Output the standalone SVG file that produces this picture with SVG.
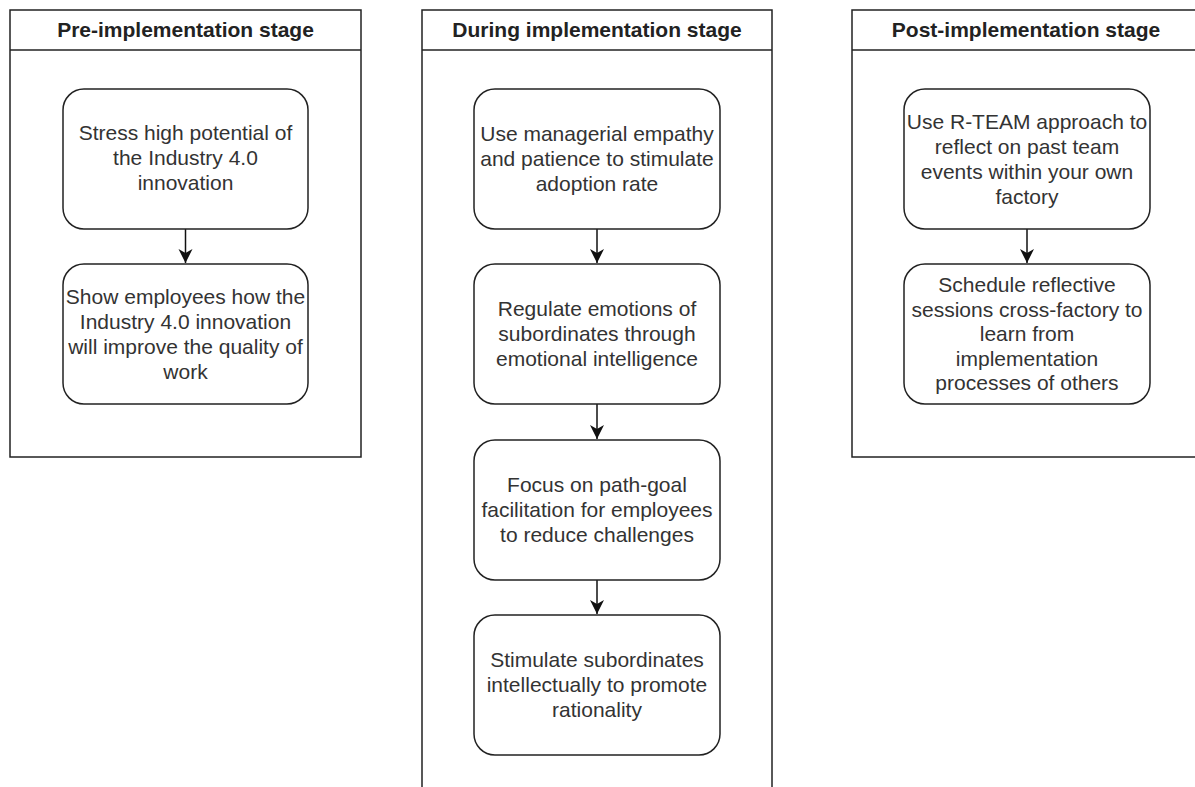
<svg xmlns="http://www.w3.org/2000/svg" width="1195" height="787" viewBox="0 0 1195 787">
<style>
.lane{fill:#fff;stroke:#222;stroke-width:1.5}
.node{fill:#fff;stroke:#222;stroke-width:1.5}
.hd{font-family:"Liberation Sans",Arial,sans-serif;font-size:21px;font-weight:bold;fill:#222;text-anchor:middle}
.tx{font-family:"Liberation Sans",Arial,sans-serif;font-size:21px;fill:#333;text-anchor:middle}
.edge{stroke:#111;stroke-width:1.5;fill:none}
</style>
<defs>
<marker id="arr" markerUnits="userSpaceOnUse" markerWidth="16" markerHeight="16" refX="14" refY="7" orient="auto" viewBox="0 0 16 14">
<path d="M0,0 L14,7 L0,14 L4,7 Z" fill="#111"/>
</marker>
</defs>
<rect width="1195" height="787" fill="#fff"/>

<g id="lane-pre">
<rect class="lane" x="10" y="10" width="351" height="447"/>
<line class="lane" x1="10" y1="50" x2="361" y2="50"/>
<text class="hd" x="185.5" y="37">Pre-implementation stage</text>
</g>
<g id="lane-during">
<rect class="lane" x="422" y="10" width="350" height="800"/>
<line class="lane" x1="422" y1="50" x2="772" y2="50"/>
<text class="hd" x="597" y="37">During implementation stage</text>
</g>
<g id="lane-post">
<rect class="lane" x="852" y="10" width="350" height="447"/>
<line class="lane" x1="852" y1="50" x2="1202" y2="50"/>
<text class="hd" x="1026" y="37">Post-implementation stage</text>
</g>

<g id="connectors">
<line class="edge" x1="185.5" y1="229" x2="185.5" y2="263" marker-end="url(#arr)"/>
<line class="edge" x1="597" y1="229" x2="597" y2="263" marker-end="url(#arr)"/>
<line class="edge" x1="597" y1="404" x2="597" y2="439" marker-end="url(#arr)"/>
<line class="edge" x1="597" y1="580" x2="597" y2="614" marker-end="url(#arr)"/>
<line class="edge" x1="1027" y1="229" x2="1027" y2="263" marker-end="url(#arr)"/>
</g>

<g id="n-stress">
<rect class="node" x="63" y="89" width="245" height="140" rx="21"/>
<text class="tx" x="185.5" y="140">Stress high potential of</text>
<text class="tx" x="185.5" y="165">the Industry 4.0</text>
<text class="tx" x="185.5" y="190">innovation</text>
</g>
<g id="n-show">
<rect class="node" x="63" y="264" width="245" height="140" rx="21"/>
<text class="tx" x="185.5" y="304">Show employees how the</text>
<text class="tx" x="185.5" y="329">Industry 4.0 innovation</text>
<text class="tx" x="185.5" y="354">will improve the quality of</text>
<text class="tx" x="185.5" y="379">work</text>
</g>

<g id="n-empathy">
<rect class="node" x="474" y="89" width="246" height="140" rx="21"/>
<text class="tx" x="597" y="141">Use managerial empathy</text>
<text class="tx" x="597" y="166">and patience to stimulate</text>
<text class="tx" x="597" y="191">adoption rate</text>
</g>
<g id="n-regulate">
<rect class="node" x="474" y="264" width="246" height="140" rx="21"/>
<text class="tx" x="597" y="316">Regulate emotions of</text>
<text class="tx" x="597" y="341">subordinates through</text>
<text class="tx" x="597" y="366">emotional intelligence</text>
</g>
<g id="n-focus">
<rect class="node" x="474" y="440" width="246" height="140" rx="21"/>
<text class="tx" x="597" y="492">Focus on path-goal</text>
<text class="tx" x="597" y="517">facilitation for employees</text>
<text class="tx" x="597" y="542">to reduce challenges</text>
</g>
<g id="n-stimulate">
<rect class="node" x="474" y="615" width="246" height="140" rx="21"/>
<text class="tx" x="597" y="667">Stimulate subordinates</text>
<text class="tx" x="597" y="692">intellectually to promote</text>
<text class="tx" x="597" y="717">rationality</text>
</g>

<g id="n-rteam">
<rect class="node" x="904" y="89" width="246" height="140" rx="21"/>
<text class="tx" x="1027" y="129">Use R-TEAM approach to</text>
<text class="tx" x="1027" y="154">reflect on past team</text>
<text class="tx" x="1027" y="179">events within your own</text>
<text class="tx" x="1027" y="204">factory</text>
</g>
<g id="n-schedule">
<rect class="node" x="904" y="264" width="246" height="140" rx="21"/>
<text class="tx" x="1027" y="292">Schedule reflective</text>
<text class="tx" x="1027" y="317">sessions cross-factory to</text>
<text class="tx" x="1027" y="341">learn from</text>
<text class="tx" x="1027" y="366">implementation</text>
<text class="tx" x="1027" y="390">processes of others</text>
</g>
</svg>
